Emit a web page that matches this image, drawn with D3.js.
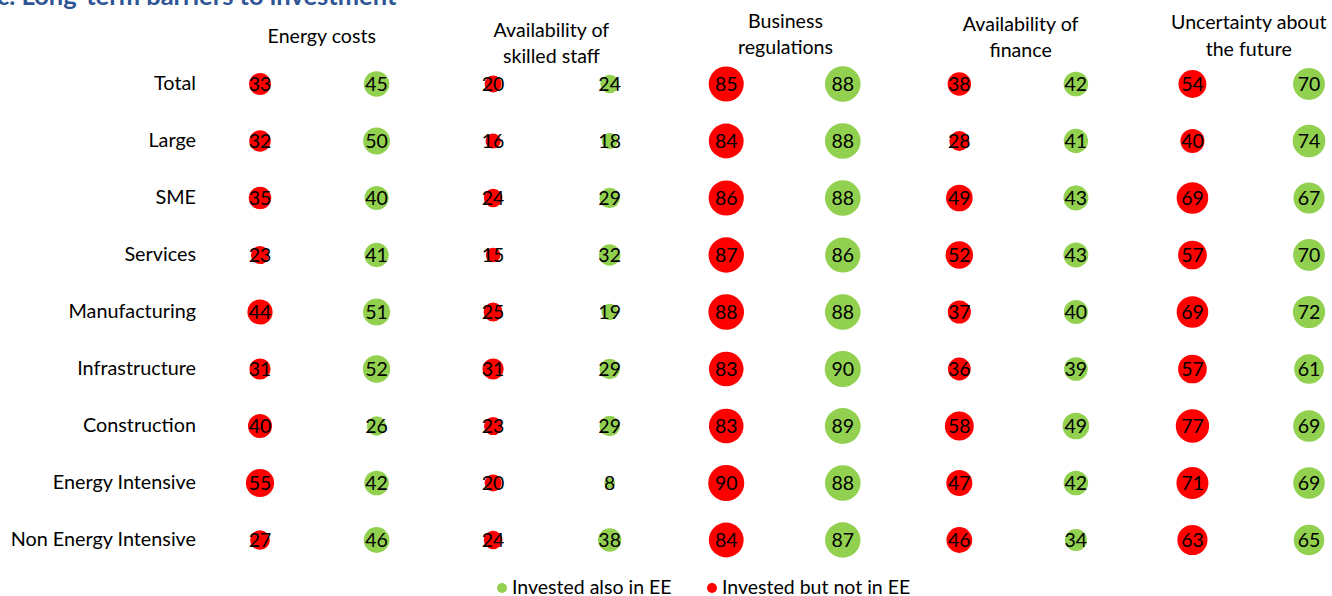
<!DOCTYPE html>
<html><head><meta charset="utf-8">
<script src="https://cdn.jsdelivr.net/npm/d3@7"></script>
<style>html,body{margin:0;padding:0;background:#fff;}svg{display:block;}</style>
</head><body>
<script>
const categories = ["Total","Large","SME","Services","Manufacturing","Infrastructure","Construction","Energy Intensive","Non Energy Intensive"];
const barriers = [["Energy costs"],["Availability of","skilled staff"],["Business","regulations"],["Availability of","finance"],["Uncertainty about","the future"]];
const notEE_energy = [33,32,35,23,44,31,40,55,27];
const notEE_staff = [20,16,24,15,25,31,23,20,24];
const notEE_regs = [85,84,86,87,88,83,83,90,84];
const notEE_finance = [38,28,49,52,37,36,58,47,46];
const notEE_uncert = [54,40,69,57,69,57,77,71,63];
const alsoEE_energy = [45,50,40,41,51,52,26,42,46];
const alsoEE_staff = [24,18,29,32,19,29,29,8,38];
const alsoEE_regs = [88,88,88,86,88,90,89,88,87];
const alsoEE_finance = [42,41,43,43,40,39,49,42,34];
const alsoEE_uncert = [70,74,67,70,72,61,69,69,65];
const seriesNames = ["Invested also in EE","Invested but not in EE"];
const title = "c. Long-term barriers to investment";

const W = 1332, H = 596;
const RED = "#FF0000", GREEN = "#92D050";
const FONT = "Lato, 'Open Sans', sans-serif";

const notEE = [notEE_energy, notEE_staff, notEE_regs, notEE_finance, notEE_uncert];
const alsoEE = [alsoEE_energy, alsoEE_staff, alsoEE_regs, alsoEE_finance, alsoEE_uncert];

const cells = [];
barriers.forEach((b, bi) => {
  categories.forEach((c, ci) => {
    cells.push({col: bi*2, cat: c, v: notEE[bi][ci], color: RED});
    cells.push({col: bi*2+1, cat: c, v: alsoEE[bi][ci], color: GREEN});
  });
});

const svg = d3.select("body").append("svg").attr("width", W).attr("height", H)
  .style("font-family", FONT);

const x = d3.scalePoint().domain(d3.range(10)).range([260, 1309]);
const y = d3.scalePoint().domain(categories).range([84, 540]);
const r = d3.scaleSqrt().domain([0, 100]).range([0, 19]);

// title (clipped at top as in reference)
svg.append("text").attr("x", -3).attr("y", 5).text(title)
  .attr("fill", "#2F5597").attr("font-weight", "bold").attr("font-size", 25.5);

// column headers (layout offsets)
const hdrY = [[36],[30,56],[21,47],[24,50],[22,49]];
const hdrDX = [3.5, 0, 1, 3, -2];
barriers.forEach((lines, bi) => {
  const cx = (x(bi*2) + x(bi*2+1)) / 2 + hdrDX[bi];
  lines.forEach((ln, li) => {
    svg.append("text").attr("x", cx).attr("y", hdrY[bi][li]).attr("dy", "0.35em")
      .attr("text-anchor", "middle").attr("font-size", 19.6).attr("fill", "#000").text(ln);
  });
});

// row labels
svg.append("g").selectAll("text").data(categories).join("text")
  .attr("x", 196).attr("y", d => y(d) - 1).attr("dy", "0.35em")
  .attr("text-anchor", "end").attr("font-size", 19.8).attr("fill", "#000").text(d => d);

// bubbles
const g = svg.append("g");
g.selectAll("circle").data(cells).join("circle")
  .attr("cx", d => x(d.col)).attr("cy", d => y(d.cat)).attr("r", d => r(d.v))
  .attr("fill", d => d.color);
g.selectAll("text").data(cells).join("text")
  .attr("x", d => x(d.col)).attr("y", d => y(d.cat)).attr("dy", "0.36em")
  .attr("text-anchor", "middle").attr("font-size", 19.5).attr("fill", "#000").text(d => d.v);

// legend
const leg = svg.append("g");
const legItems = [{name: seriesNames[0], color: GREEN, x: 502}, {name: seriesNames[1], color: RED, x: 712}];
legItems.forEach(it => {
  leg.append("circle").attr("cx", it.x).attr("cy", 588).attr("r", 5).attr("fill", it.color);
  leg.append("text").attr("x", it.x + 10).attr("y", 587).attr("dy", "0.35em")
    .attr("font-size", 19.5).attr("fill", "#000").text(it.name);
});
</script>
</body></html>
